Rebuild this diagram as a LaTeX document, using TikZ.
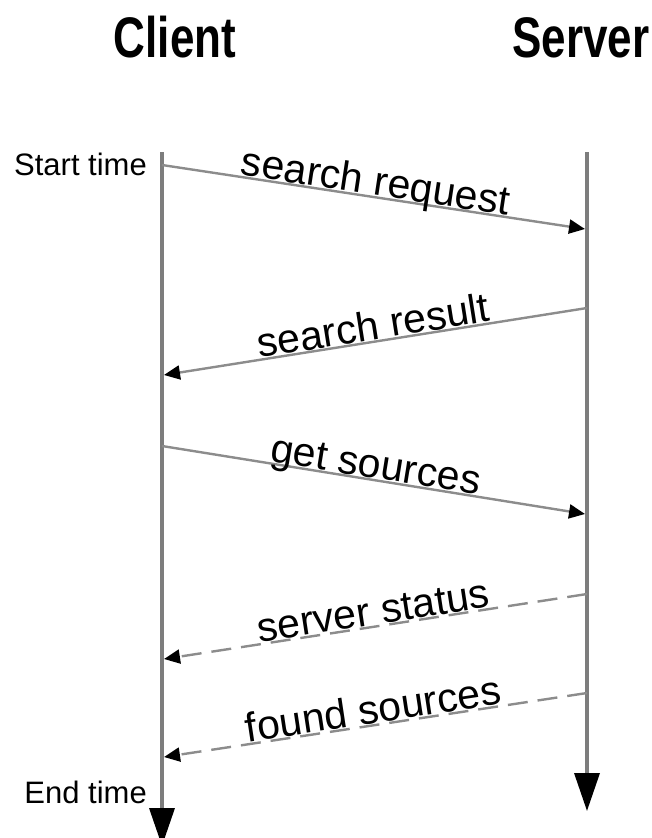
\documentclass[tikz,border=0pt]{standalone}
\usepackage{fontspec}
\setmainfont{Liberation Sans}
\usetikzlibrary{arrows.meta}
\definecolor{lifegray}{RGB}{125,125,125}
\definecolor{msggray}{RGB}{140,140,140}
\tikzset{
  lifeline/.style={draw=lifegray, line width=3.5pt,
    -{Triangle[length=38pt,width=25pt,fill=black,color=black]}},
  msg/.style={draw=msggray, line width=2.4pt,
    -{Triangle[length=16pt,width=14pt,fill=black,color=black]}},
  async/.style={msg, dash pattern=on 20pt off 10pt},
  lbl/.style={midway, sloped, anchor=base, inner sep=0pt, yshift=2pt,
    font=\fontsize{41}{41}\selectfont, text=black},
  title/.style={font=\fontsize{44}{44}\bfseries, text=black, anchor=base},
  timelbl/.style={font=\fontsize{31}{31}\selectfont, text=black, anchor=base east, inner sep=0pt}
}
\begin{document}
\begin{tikzpicture}[x=1pt, y=-1pt]
  \useasboundingbox (0,0) rectangle (651,838);

  % participants
  \node[title] (client) at (175,57) {\scalebox{1}[1.3]{Client}};
  \node[title] (server) at (581,57) {\scalebox{1}[1.3]{Server}};

  % lifeline ends
  \coordinate (ctop) at (162,152);
  \coordinate (cbot) at (162,846);
  \coordinate (stop) at (587,152);
  \coordinate (sbot) at (587,811);

  \draw[lifeline] (ctop) -- (cbot);
  \draw[lifeline] (stop) -- (sbot);

  % time marks
  \node[timelbl] (start) at (147,175) {Start time};
  \node[timelbl] (end) at (147,803) {End time};

  % message end points
  \coordinate (m1a) at (162,165);
  \coordinate (m1b) at (585,229);
  \coordinate (m2a) at (587,308);
  \coordinate (m2b) at (164,375);
  \coordinate (m3a) at (162,446);
  \coordinate (m3b) at (585,514);
  \coordinate (m4a) at (587,594);
  \coordinate (m4b) at (164,659);
  \coordinate (m5a) at (587,693);
  \coordinate (m5b) at (164,757);

  % messages
  \draw[msg] (m1a) -- node[lbl] (l1) {search request} (m1b);
  \draw[msg] (m2a) -- node[lbl] (l2) {search result} (m2b);
  \draw[msg] (m3a) -- node[lbl] (l3) {get sources} (m3b);
  \draw[async] (m4a) -- node[lbl] (l4) {server status} (m4b);
  \draw[async] (m5a) -- node[lbl] (l5) {found sources} (m5b);
\end{tikzpicture}
\end{document}
